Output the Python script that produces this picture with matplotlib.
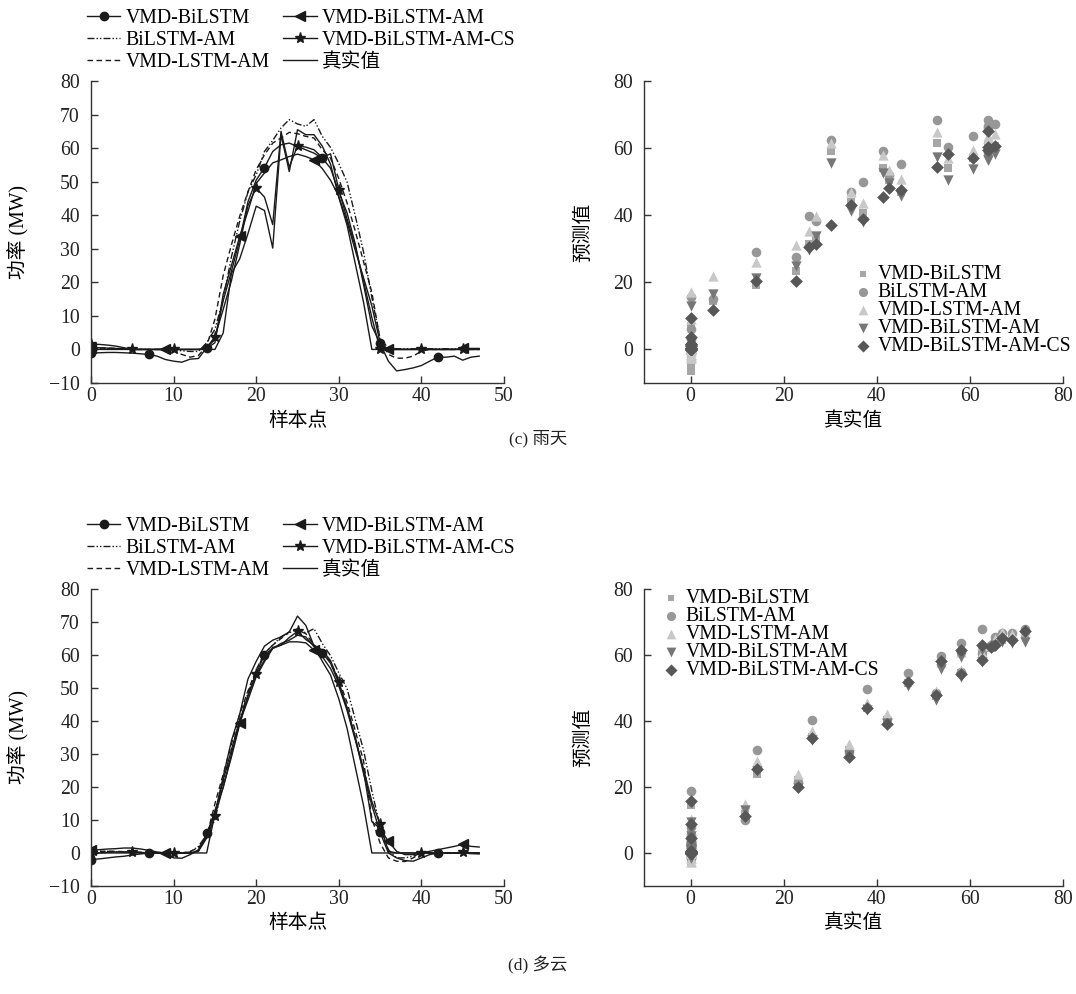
import matplotlib
matplotlib.use('Agg')
import matplotlib.pyplot as plt
import numpy as np

plt.rcParams['font.family'] = ['Liberation Serif', 'Noto Sans CJK SC']
plt.rcParams['axes.unicode_minus'] = True
FS = 14.2

x = np.arange(48)
names = ['VMD-BiLSTM', 'BiLSTM-AM', 'VMD-LSTM-AM', 'VMD-BiLSTM-AM', 'VMD-BiLSTM-AM-CS', '真实值']

# (c) rainy day
true_c = [0, 0, 0, 0, 0, 0, 0, 0, 0, 0, 0, 0, 0, 0, 0, 0,
          4.9, 22.7, 27.0, 34.5, 42.7, 41.4, 30.2, 64.0, 53.0, 65.5, 64.0, 64.0, 60.6,
          55.2, 45.3, 37.0, 25.5, 14.0,
          0, 0, 0, 0, 0, 0, 0, 0, 0, 0, 0, 0, 0, 0]
bilstm_c = [-1.0, -1.0, -0.9, -0.9, -1.0, -1.1, -1.3, -1.5, -2.0, -3.0, -3.5, -3.8, -2.9, -2.7,
            0.5, 3.0, 14.5, 23.3, 32.7, 44.0, 50.5, 54.2, 59.0, 61.0, 61.5, 60.5, 59.5, 58.5,
            57.0, 54.0, 47.0, 40.7, 31.3, 19.3, 7.0, 1.8,
            -3.5, -6.4, -6.0, -5.5, -4.8, -3.5, -2.3, -2.3, -2.0, -3.2, -2.3, -2.0]
bilstm_am_c = [0.3, 0.3, 0.2, 0.2, 0.1, 0.0, 0.0, 0.0, 0.0, 0.0, -0.2, -0.4, -0.6, -0.6,
               2.0, 6.0, 14.9, 27.6, 38.2, 46.9, 52.1, 59.0, 62.3, 66.0, 68.5, 67.2, 66.5, 68.5,
               63.5, 60.2, 55.4, 49.9, 39.7, 29.0, 15.5, 3.0,
               0.5, 0.2, 0.2, 0.2, 0.2, 0.2, 0.2, 0.2, 0.2, 0.2, 0.2, 0.2]
lstm_am_c = [0.5, 0.5, 0.4, 0.3, 0.2, 0.0, 0.0, 0.0, 0.0, 0.0, -0.5, -1.5, -2.3, -1.8,
             1.0, 9.0, 22.0, 31.2, 39.7, 47.0, 53.6, 58.0, 61.5, 63.0, 64.7, 64.3, 63.5, 63.0,
             59.5, 57.0, 50.9, 43.7, 35.2, 26.1, 17.0, 3.0,
             -1.5, -2.6, -2.6, -2.0, -0.5, 0.0, 0.0, 0.0, 0.0, 0.0, 0.0, 0.0]
bilstm_am2_c = [0.5, 0.5, 0.4, 0.3, 0.2, 0.0, 0.0, 0.0, 0.0, 0.0, 0.0, 0.0, 0.0, 0.0,
                0.3, 2.0, 16.4, 25.0, 33.7, 41.2, 49.5, 52.6, 55.6, 56.5, 57.5, 58.2, 57.5, 56.5,
                53.9, 50.4, 45.6, 38.0, 29.5, 21.3, 13.0, 2.0,
                0.0, 0.0, 0.0, 0.0, 0.0, 0.0, 0.0, 0.0, 0.0, 0.3, 0.3, 0.3]
cs_c = [1.5, 1.5, 1.3, 1.0, 0.5, 0.0, 0.0, 0.0, 0.0, 0.0, 0.0, 0.0, 0.0, 0.0,
        0.5, 3.8, 11.9, 20.5, 31.3, 42.9, 48.1, 45.4, 37.2, 65.0, 54.3, 60.7, 60.3, 59.5,
        57.2, 58.3, 47.6, 38.9, 30.6, 20.3, 9.5, 0.0,
        0.0, 0.0, 0.0, 0.0, 0.0, 0.0, 0.0, 0.0, 0.0, 0.0, 0.0, 0.0]

# (d) cloudy day
true_d = [0, 0, 0, 0, 0, 0, 0, 0, 0, 0, 0, 0, 0, 0, 0,
          11.8, 23.1, 34.0, 42.1, 52.7, 58.1, 62.7, 64.5, 65.5, 67.0, 71.8, 69.0, 62.7,
          58.1, 53.9, 46.7, 37.8, 26.0, 14.3,
          0, 0, 0, 0, 0, 0, 0, 0, 0, 0, 0, 0, 0, 0]
bilstm_d = [-2.0, -1.8, -1.5, -1.2, -1.0, -0.6, -0.3, 0.0, 0.0, 0.0, 0.0, 0.0, 0.0, 0.5,
            6.0, 11.9, 22.0, 31.3, 40.2, 47.5, 54.5, 60.0, 62.0, 63.5, 64.5, 66.0, 65.5, 62.5,
            60.7, 57.5, 51.5, 44.0, 35.0, 24.0, 14.4, 6.3,
            0.0, -1.5, -2.3, -2.5, -1.5, -0.5, 0.0, 0.0, 0.0, 0.0, -0.2, -0.3]
bilstm_am_d = [0.5, 0.5, 0.5, 0.4, 0.3, 0.2, 0.0, 0.0, 0.0, 0.0, 0.0, 0.0, 0.3, 2.0,
               5.5, 9.9, 21.5, 30.5, 40.5, 48.5, 55.0, 60.5, 63.0, 65.5, 66.7, 68.0, 66.7, 68.0,
               63.5, 59.8, 54.6, 49.8, 40.4, 31.1, 18.8, 8.0,
               1.0, -1.5, -1.5, -1.0, 0.0, 0.0, 0.0, 0.0, 0.0, 0.0, 0.0, 0.0]
lstm_am_d = [0.5, 0.5, 0.5, 0.5, 0.4, 0.3, 0.2, 0.0, 0.0, 0.0, 0.0, 0.0, 0.5, 1.5,
             5.0, 14.9, 23.8, 33.0, 42.0, 49.1, 55.6, 60.5, 63.0, 65.0, 67.0, 67.5, 66.5, 63.0,
             61.0, 58.0, 52.5, 45.6, 37.0, 27.8, 10.4, 3.0,
             -1.5, -2.5, -2.6, -1.5, 0.0, 0.0, 0.0, 0.0, 0.0, 0.0, 0.0, 0.0]
bilstm_am2_d = [0.8, 1.0, 1.2, 1.3, 1.5, 1.5, 1.2, 0.8, 0.3, 0.0, -1.5, -1.6, -0.5, 1.0,
                5.0, 12.9, 19.8, 29.8, 39.5, 46.4, 53.4, 58.0, 62.0, 63.0, 64.0, 64.0, 63.7, 61.5,
                59.5, 55.9, 50.6, 43.2, 34.2, 24.8, 9.5, 7.4,
                3.5, 0.5, -0.5, -0.5, 0.0, 0.5, 1.0, 1.5, 2.0, 2.6, 2.0, 1.8]
cs_d = [0.0, 0.0, 0.2, 0.3, 0.3, 0.3, 0.2, 0.0, 0.0, 0.0, 0.0, 0.0, 0.0, 0.5,
        4.5, 11.1, 20.0, 29.1, 39.0, 47.8, 54.1, 58.5, 62.3, 63.0, 65.3, 67.2, 64.7, 63.0,
        61.5, 58.3, 51.8, 43.9, 34.7, 25.5, 15.6, 8.7,
        0.5, 0.0, 0.0, 0.0, 0.0, 0.0, 0.0, 0.0, 0.0, 0.3, 0.0, 0.0]

K = '#1a1a1a'
line_styles = [
    dict(ls='-', marker='o', ms=6, markevery=7),
    dict(ls=(0, (5, 1.5, 1, 1.5, 1, 1.5)), marker=None),
    dict(ls=(0, (4, 2.5)), marker=None),
    dict(ls='-', marker='<', ms=6.5, markevery=9),
    dict(ls='-', marker='*', ms=8, markevery=5),
    dict(ls='-', marker=None),
]
sc_colors = ['#a6a6a6', '#979797', '#c8c8c8', '#777777', '#575757']
sc_markers = ['s', 'o', '^', 'v', 'D']
sc_sizes = [28, 48, 55, 55, 42]


def style_axes(ax):
    ax.spines['top'].set_visible(False)
    ax.spines['right'].set_visible(False)
    for s in ('left', 'bottom'):
        ax.spines[s].set_color('#333333')
        ax.spines[s].set_linewidth(1.0)
    ax.tick_params(direction='in', length=5, width=1.0, colors='#333333',
                   labelcolor='#222222', labelsize=FS)
    ax.tick_params(axis='x', pad=3)
    ax.tick_params(axis='y', pad=8)


def line_panel(ax, series):
    for name, y, st in zip(names, series, line_styles):
        ax.plot(x, y, color=K, lw=1.0, label=name, **st)
    ax.set_xlim(0, 50)
    ax.set_ylim(-10, 80)
    ax.set_xticks(range(0, 51, 10))
    ax.set_yticks(range(-10, 81, 10))
    style_axes(ax)
    ax.set_xlabel('样本点', fontsize=FS)
    ax.set_ylabel('功率 (MW)', fontsize=FS)
    ax.xaxis.set_label_coords(0.5, -0.095)
    ax.yaxis.set_label_coords(-0.148, 0.5)
    ax.legend(loc='lower left', bbox_to_anchor=(-0.01, 1.03), ncol=2, frameon=False,
              fontsize=FS, borderpad=0, borderaxespad=0, labelspacing=0.16,
              handlelength=1.7, handletextpad=0.25, columnspacing=0.7, numpoints=1)


def scatter_panel(ax, true, preds, legend_kw):
    for name, y, c, m, s in zip(names[:5], preds, sc_colors, sc_markers, sc_sizes):
        ax.scatter(true, y, c=c, marker=m, s=s, linewidths=0, label=name)
    ax.set_xlim(-10, 80)
    ax.set_ylim(-10, 80)
    ax.set_xticks(range(0, 81, 20))
    ax.set_yticks(range(0, 81, 20))
    style_axes(ax)
    ax.set_xlabel('真实值', fontsize=FS)
    ax.set_ylabel('预测值', fontsize=FS)
    ax.xaxis.set_label_coords(0.5, -0.095)
    ax.yaxis.set_label_coords(-0.122, 0.5)
    ax.legend(frameon=False, fontsize=FS, borderpad=0, borderaxespad=0,
              labelspacing=-0.05, handlelength=0.8, handletextpad=0.35,
              scatterpoints=1, markerscale=0.95, **legend_kw)


fig = plt.figure(figsize=(10.76, 9.94), dpi=100)
ax1 = fig.add_axes([0.0846, 0.6147, 0.3838, 0.3038])
ax2 = fig.add_axes([0.5985, 0.6147, 0.3894, 0.3038])
ax3 = fig.add_axes([0.0846, 0.1087, 0.3838, 0.2987])
ax4 = fig.add_axes([0.5985, 0.1087, 0.3894, 0.2987])

line_panel(ax1, [bilstm_c, bilstm_am_c, lstm_am_c, bilstm_am2_c, cs_c, true_c])
scatter_panel(ax2, true_c, [bilstm_c, bilstm_am_c, lstm_am_c, bilstm_am2_c, cs_c],
              dict(loc='lower right', bbox_to_anchor=(1.02, 0.09)))
line_panel(ax3, [bilstm_d, bilstm_am_d, lstm_am_d, bilstm_am2_d, cs_d, true_d])
scatter_panel(ax4, true_d, [bilstm_d, bilstm_am_d, lstm_am_d, bilstm_am2_d, cs_d],
              dict(loc='upper left', bbox_to_anchor=(0.045, 1.0)))

fig.text(0.5, 0.559, '(c) 雨天', ha='center', va='center', fontsize=12.5, color='#222222')
fig.text(0.5, 0.029, '(d) 多云', ha='center', va='center', fontsize=12.5, color='#222222')

fig.savefig('out.png', dpi=100)
